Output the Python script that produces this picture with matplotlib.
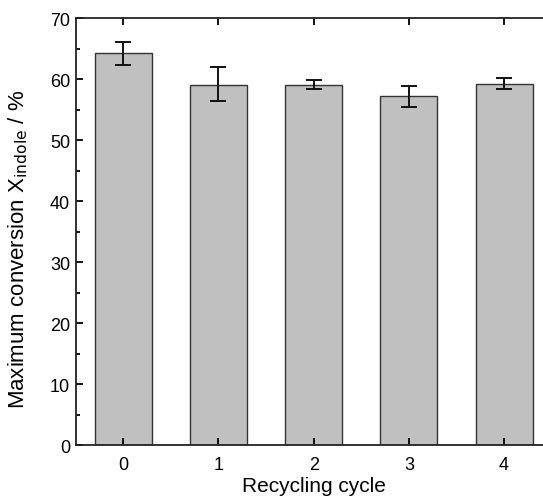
import matplotlib.pyplot as plt
from matplotlib.ticker import MultipleLocator
import numpy as np

plt.rcParams['font.family'] = ['Liberation Sans', 'DejaVu Sans']

cycles = [0, 1, 2, 3, 4]
conversion = [64.3, 59.1, 59.1, 57.3, 59.2]
err_low = [2.0, 2.7, 0.8, 1.8, 0.8]
err_high = [1.7, 2.9, 0.75, 1.6, 0.9]

fig = plt.figure(figsize=(5.43, 5.02), dpi=100)
ax = fig.add_axes([0.1394, 0.111, 0.8766, 0.851])

ax.bar(cycles, conversion, width=0.6, color='#c0c0c0', edgecolor='#333333', linewidth=1.0,
       yerr=[err_low, err_high], capsize=6,
       error_kw=dict(ecolor='#111111', elinewidth=1.4, capthick=1.4))

ax.set_xlim(-0.5, 4.5)
ax.set_ylim(0, 70)
ax.set_xticks(cycles)
ax.yaxis.set_major_locator(MultipleLocator(10))
ax.yaxis.set_minor_locator(MultipleLocator(5))
ax.tick_params(axis='both', which='both', direction='in', top=True, right=True,
               labelsize=13, width=1.3)
ax.tick_params(which='major', length=5)
ax.tick_params(which='minor', length=3)
ax.tick_params(axis='x', pad=8)
ax.tick_params(axis='y', pad=4)
for s in ax.spines.values():
    s.set_linewidth(1.3)
    s.set_color('#222222')

ax.set_xlabel('Recycling cycle', fontsize=15, labelpad=2)
ax.set_ylabel('Maximum conversion X$_{\\mathrm{indole}}$ / %', fontsize=16)
ax.yaxis.set_label_coords(-0.095, 0.46)

fig.savefig('out.png', dpi=100)
